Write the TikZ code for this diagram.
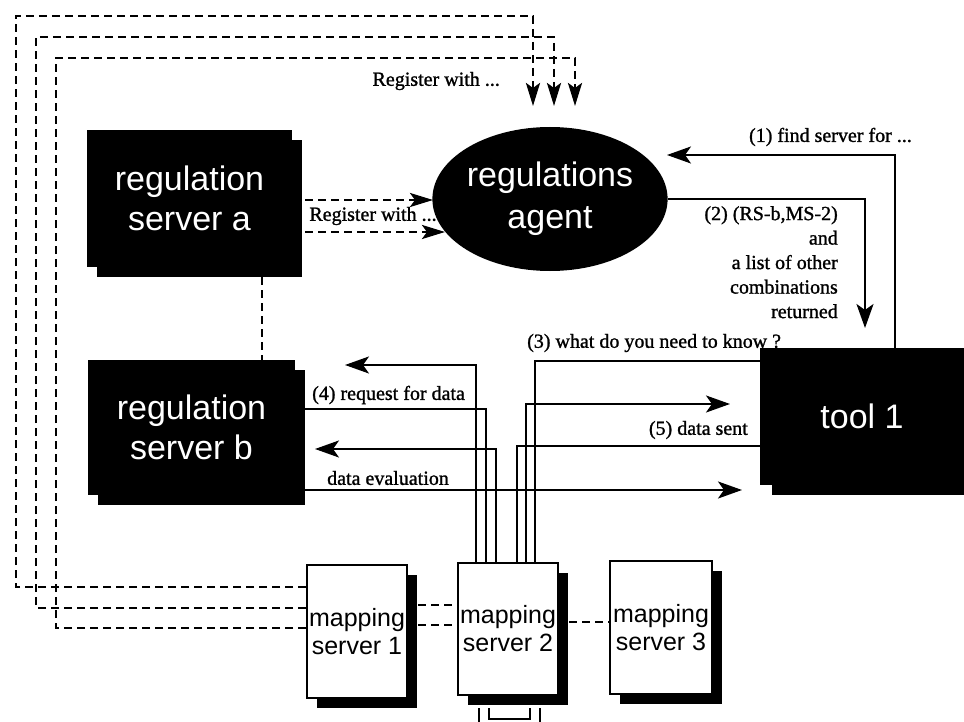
\documentclass[tikz,border=0pt]{standalone}
\usepackage{fontspec}
\setmainfont{Liberation Serif}
\newfontfamily\lblfont[FakeBold=1.2]{Liberation Serif}
\newfontfamily\boxfont{Liberation Sans}
\usetikzlibrary{arrows.meta,shapes.geometric,shadows,calc}

\begin{document}
\begin{tikzpicture}[x=1pt,y=-1pt,
  blackbox/.style={fill=black, text=white, inner sep=0pt, align=center,
    font=\boxfont\fontsize{34}{40}\selectfont,
    general shadow={fill=black, shadow xshift=#1, shadow yshift=-10pt}},
  blackbox/.default=10pt,
  mapbox/.style={draw=black, line width=2pt, fill=white, inner sep=0pt,
    align=center, font=\boxfont\fontsize{25}{28}\selectfont,
    general shadow={fill=black, shadow xshift=10pt, shadow yshift=-10pt}},
  wire/.style={line width=2.3pt},
  flow/.style={wire, -{Stealth[length=24pt,width=17pt,inset=6pt]}},
  regline/.style={line width=2.8pt, dash pattern=on 8pt off 5pt},
  regarrow/.style={regline, -{Stealth[length=23pt,width=14pt,inset=5pt]}},
  lbl/.style={font=\lblfont\fontsize{20}{24.5}\selectfont, inner sep=0pt},
]
\path[use as bounding box, clip] (0,0) rectangle (964,722);

% servers, agent and tool
\node[blackbox, minimum width=205pt, minimum height=137pt] (rsa) at (189.5,198.5) {regulation\\server a};
\node[blackbox, minimum width=207pt, minimum height=135pt] (rsb) at (191.5,427.5) {regulation\\server b};
\node[ellipse, fill=black, text=white, inner sep=0pt, align=center,
      font=\boxfont\fontsize{34}{42}\selectfont,
      minimum width=216pt, minimum height=144pt] (agent) at (550,199) {regulations\\agent};
\node[blackbox=12pt, minimum width=204pt, minimum height=137pt] (tool) at (862,416.5) {tool 1};

\node[mapbox, minimum width=100pt, minimum height=133pt] (ms1) at (357,631.5) {mapping\\server 1};
\node[mapbox, minimum width=100pt, minimum height=132pt] (ms2) at (508,629) {mapping\\server 2};
\node[mapbox, minimum width=102pt, minimum height=133pt] (ms3) at (661,627.5) {mapping\\server 3};

% registration of the mapping servers with the agent
\coordinate (reg1) at (533,106);
\coordinate (reg2) at (554,106);
\coordinate (reg3) at (575,106);
\draw[regarrow] (ms1.west |- 0,587) -- (16,587) -- (16,16) -| (reg1);
\draw[regarrow] (ms1.west |- 0,608) -- (36,608) -- (36,37) -| (reg2);
\draw[regarrow] (ms1.west |- 0,628) -- (56,628) -- (56,58) -| (reg3);
\node[lbl, anchor=east] (regtop) at (500,81) {Register with ...};

% registration of server a
\coordinate (ra1) at (433,200);
\coordinate (ra2) at (445,232);
\draw[regarrow] (rsa.east |- 0,200) -- (ra1);
\draw[regarrow] (rsa.east |- 0,232) -- (ra2);
\node[lbl] (regmid) at (373,216) {Register with ...};

% link between the two regulation servers
\draw[regline] (rsa.south -| 262,0) ++(0,10) -- (rsb.north -| 262,0);

% (1) query to the agent
\coordinate (t1) at (667,155);
\draw[flow] (tool.north -| 895,0) |- (t1);
\node[lbl, anchor=east] (q1) at (912,137) {(1) find server for ...};

% (2) answer of the agent
\coordinate (t2) at (865,328);
\draw[flow] (agent.east) -| (t2);
\node[lbl, anchor=north east, align=right] (q2) at (838,206)
  {(2) (RS-b,MS-2)\\and\\a list of other\\combinations\\returned};

% (3) tool asks mapping server 2
\draw[wire] (tool.west |- 0,361) -| (ms2.north -| 535,0);
\node[lbl, anchor=west] (q3) at (527,343) {(3) what do you need to know ?};

% traffic between server b and mapping server 2
\coordinate (b1) at (345,365);
\draw[flow] (ms2.north -| 476,0) |- (b1);
\draw[wire] (rsb.east |- 0,409) -| (ms2.north -| 486,0);
\node[lbl, anchor=west] (q4) at (312,395) {(4) request for data};
\coordinate (b2) at (315,449);
\draw[flow] (ms2.north -| 496,0) |- (b2);

% (5) data from the tool
\draw[wire] (tool.west |- 0,446) -| (ms2.north -| 517,0);
\node[lbl, anchor=east] (q5) at (748,430) {(5) data sent};
\coordinate (r1) at (730,404);
\draw[flow] (ms2.north -| 526,0) |- (r1);

% evaluation result to the tool
\coordinate (r2) at (742,490);
\draw[flow] (rsb.east |- 0,490) -- (r2);
\node[lbl] (q6) at (388,478) {data evaluation};

% wires leaving mapping server 2 below
\draw[wire] (ms2.south -| 479,0) ++(0,12) -- ++(0,16);
\draw[wire] (ms2.south -| 540,0) ++(0,12) -- ++(0,16);
\draw[wire] ($(ms2.south -| 489,0)+(0,12)$) |- ($(ms2.south -| 530,0)+(0,23)$) -- ++(0,-11);

% links between the mapping servers
\draw[regline] ($(ms1.east |- 0,605)+(10,0)$) -- (ms2.west |- 0,605);
\draw[regline] ($(ms1.east |- 0,625)+(10,0)$) -- (ms2.west |- 0,625);
\draw[regline] ($(ms2.east |- 0,622)+(10,0)$) -- (ms3.west |- 0,622);
\end{tikzpicture}
\end{document}
